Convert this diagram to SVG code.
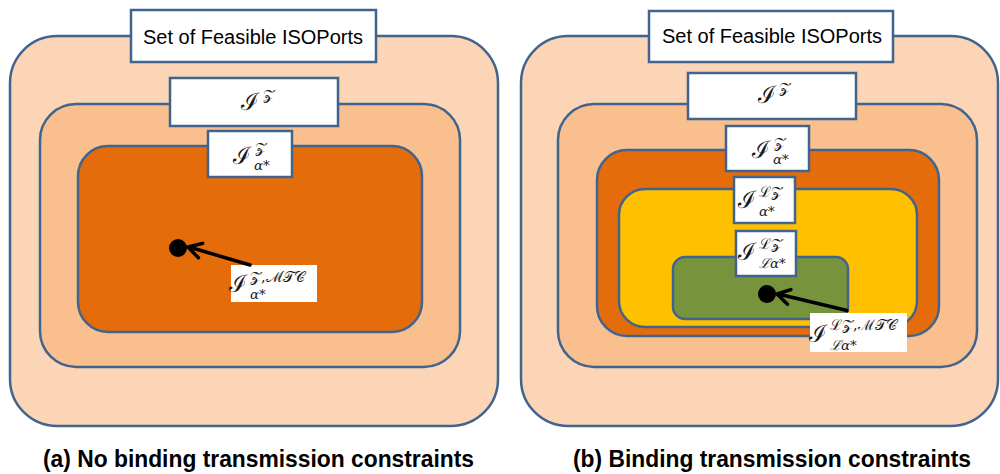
<svg xmlns="http://www.w3.org/2000/svg" width="1000" height="474" viewBox="0 0 1000 474">
<defs>
<style>
.st{stroke:#41648F;stroke-width:2.5}
.l1{fill:#FBD5B5}.l2{fill:#F9BF8F}.l3{fill:#E46C0A}.l4{fill:#FFC000}.l5{fill:#77933C}
.box{fill:#FFFFFF;stroke:#41648F;stroke-width:2.5}
.lbl{font-family:"Liberation Sans",Arial,sans-serif;font-size:20px;fill:#000}
.m{font-family:"DejaVu Serif",serif;fill:#1a1a1a}
.big{font-size:24px}.sup{font-size:14.5px}.sub{font-size:13.5px;font-style:italic}
.cap{font-family:"Liberation Sans Narrow","Liberation Sans",Arial,sans-serif;font-weight:bold;font-size:23px;fill:#000}
.arr{stroke:#000;stroke-width:3.5;fill:none;stroke-linecap:round;stroke-linejoin:round}
</style>
</defs>
<g id="panel-a">
<g id="a-feasible"><rect class="l1 st" x="10" y="36" width="488" height="390" rx="47"/></g>
<g id="a-IZ"><rect class="l2 st" x="40" y="104" width="420" height="263" rx="36"/></g>
<g id="a-IZa"><rect class="l3 st" x="78" y="146" width="344" height="186" rx="30"/></g>
<g id="a-label-feasible"><rect class="box" x="131" y="10" width="245" height="52"/>
<text class="lbl" x="143" y="44" textLength="220" lengthAdjust="spacing">Set of Feasible ISOPorts</text></g>
<g id="a-label-IZ"><rect class="box" x="170" y="78" width="168" height="48"/>
<text class="m"><tspan class="big" x="241" y="110">ℐ</tspan><tspan class="sup" x="263" y="100">𝒵</tspan></text></g>
<g id="a-label-IZa"><rect class="box" x="208" y="131" width="84" height="46"/>
<text class="m"><tspan class="big" x="233" y="164">ℐ</tspan><tspan class="sup" x="255" y="153">𝒵</tspan><tspan class="sub" x="254" y="170">α*</tspan></text></g>
<g id="a-mtc"><circle cx="178" cy="248" r="9" fill="#000"/>
<rect x="231" y="265" width="86" height="37" fill="#FFFFFF"/>
<text class="m"><tspan class="big" x="229" y="292">ℐ</tspan><tspan class="sup" x="250" y="282">𝒵,ℳ𝒯𝒞</tspan><tspan class="sub" x="250" y="299">α*</tspan></text></g>
</g>
<g id="panel-b">
<g id="b-feasible"><rect class="l1 st" x="521" y="36" width="477" height="390" rx="47"/></g>
<g id="b-IZ"><rect class="l2 st" x="558" y="104" width="419" height="263" rx="36"/></g>
<g id="b-IZa"><rect class="l3 st" x="597" y="150" width="342" height="186" rx="30"/></g>
<g id="b-ILZa"><rect class="l4 st" x="619" y="189" width="298" height="138" rx="26"/></g>
<g id="b-ILZLa"><rect class="l5 st" x="673" y="257" width="175" height="62" rx="12"/></g>
<g id="b-label-feasible"><rect class="box" x="649" y="11" width="244" height="51"/>
<text class="lbl" x="662" y="43" textLength="220" lengthAdjust="spacing">Set of Feasible ISOPorts</text></g>
<g id="b-label-IZ"><rect class="box" x="688" y="73" width="168" height="46"/>
<text class="m"><tspan class="big" x="758" y="103">ℐ</tspan><tspan class="sup" x="779" y="93">𝒵</tspan></text></g>
<g id="b-label-IZa"><rect class="box" x="726" y="126" width="83" height="45"/>
<text class="m"><tspan class="big" x="752" y="158">ℐ</tspan><tspan class="sup" x="774" y="148">𝒵</tspan><tspan class="sub" x="773" y="164">α*</tspan></text></g>
<g id="b-label-ILZa"><rect class="box" x="734" y="177" width="61" height="46"/>
<text class="m"><tspan class="big" x="738" y="208">ℐ</tspan><tspan class="sup" x="759" y="197">ℒ𝒵</tspan><tspan class="sub" x="759" y="216">α*</tspan></text></g>
<g id="b-label-ILZLa"><rect class="box" x="736" y="231" width="60" height="45"/>
<text class="m"><tspan class="big" x="738" y="260">ℐ</tspan><tspan class="sup" x="759" y="249">ℒ𝒵</tspan><tspan class="sub" x="759" y="268">ℒα*</tspan></text></g>
<g id="b-mtc"><circle cx="767" cy="294" r="9" fill="#000"/>
<rect x="810" y="313" width="97" height="39" fill="#FFFFFF"/>
<text class="m"><tspan class="big" x="809" y="342">ℐ</tspan><tspan class="sup" x="830" y="330">ℒ𝒵,ℳ𝒯𝒞</tspan><tspan class="sub" x="830" y="350">ℒα*</tspan></text></g>
</g>
<g id="connectors">
<path class="arr" d="M250,265 L189,247 M198.4,257.8 L188,247 L202.6,243.4"/>
<path class="arr" d="M847,310.5 L778,294 M787.5,304.2 L777,294 L790.9,289.6"/>
</g>
<g id="captions">
<text class="cap" x="43" y="467" textLength="431" lengthAdjust="spacingAndGlyphs">(a) No binding transmission constraints</text>
<text class="cap" x="573" y="467" textLength="398" lengthAdjust="spacingAndGlyphs">(b) Binding transmission constraints</text>
</g>
</svg>
